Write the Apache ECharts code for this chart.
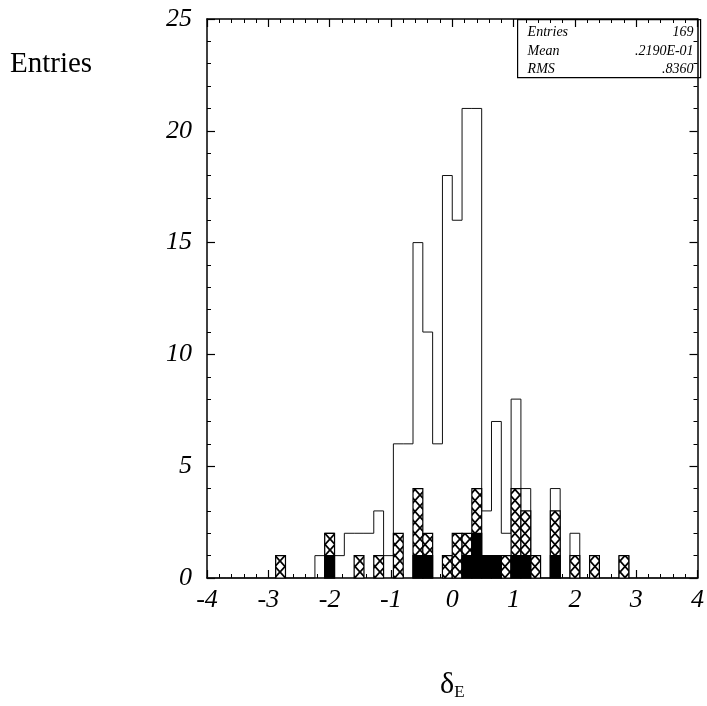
<!doctype html>
<html>
<head>
    <meta charset="utf-8">
    <title>delta E</title>
    <script src="https://cdn.jsdelivr.net/npm/echarts@6/dist/echarts.min.js"></script>
    <style>
        html, body {
            margin: 0;
            padding: 0;
            background: #fff;
        }
        #container {
            width: 707px;
            height: 706px;
        }
    </style>
</head>
<body>
    <div id="container"></div>
    <script type="text/javascript">
        // 50 bins from -4 to 4
        var xMin = -4;
        var xMax = 4;
        var binWidth = 0.16;

        // all entries (open histogram)
        var totalCounts = [
            0, 0, 0, 0, 0, 0, 0, 1, 0, 0,
            0, 1, 2, 1, 2, 2, 2, 3, 1, 6,
            6, 15, 11, 6, 18, 16, 21, 21, 3, 7,
            2, 8, 4, 1, 0, 4, 0, 2, 0, 1,
            0, 0, 1, 0, 0, 0, 0, 0, 0, 0
        ];
        // cross-hatched subset
        var hatchCounts = [
            0, 0, 0, 0, 0, 0, 0, 1, 0, 0,
            0, 0, 2, 0, 0, 1, 0, 1, 0, 2,
            0, 4, 2, 0, 1, 2, 2, 4, 1, 1,
            1, 4, 3, 1, 0, 3, 0, 1, 0, 1,
            0, 0, 1, 0, 0, 0, 0, 0, 0, 0
        ];
        // black subset
        var blackCounts = [
            0, 0, 0, 0, 0, 0, 0, 0, 0, 0,
            0, 0, 1, 0, 0, 0, 0, 0, 0, 0,
            0, 1, 1, 0, 0, 0, 1, 2, 1, 1,
            0, 1, 1, 0, 0, 1, 0, 0, 0, 0,
            0, 0, 0, 0, 0, 0, 0, 0, 0, 0
        ];

        var statNames = ['Entries', 'Mean', 'RMS'];
        var statValues = ['169', '.2190E-01', '.8360'];

        var serif = 'Liberation Serif';

        // data item: [low edge, count, high edge, previous bin count]
        function toBins(counts, keepZero) {
            var out = [];
            for (var i = 0; i < counts.length; i++) {
                if (!keepZero && counts[i] === 0) continue;
                var lo = xMin + i * binWidth;
                out.push([lo, counts[i], lo + binWidth, i > 0 ? counts[i - 1] : 0]);
            }
            return out;
        }

        // cross hatch pattern
        var pat = document.createElement('canvas');
        pat.width = 10;
        pat.height = 11;
        var ctx = pat.getContext('2d');
        ctx.fillStyle = '#fff';
        ctx.fillRect(0, 0, 10, 11);
        ctx.strokeStyle = '#000';
        ctx.lineWidth = 1.8;
        ctx.beginPath();
        ctx.moveTo(0, 0);
        ctx.lineTo(10, 11);
        ctx.moveTo(10, 0);
        ctx.lineTo(0, 11);
        ctx.stroke();

        function outlineItem(params, api) {
            var lo = api.value(0), c = api.value(1), hi = api.value(2), p = api.value(3);
            var pts = [api.coord([lo, p]), api.coord([lo, c]), api.coord([hi, c])];
            if (params.dataIndex === params.dataInsideLength - 1) {
                pts.push(api.coord([hi, 0]));
            }
            return {
                type: 'polyline',
                shape: { points: pts },
                style: { stroke: '#111', lineWidth: 1, fill: null }
            };
        }

        function rectMaker(fill) {
            return function (params, api) {
                var a = api.coord([api.value(0), api.value(1)]);
                var b = api.coord([api.value(2), 0]);
                return {
                    type: 'rect',
                    shape: { x: a[0], y: a[1], width: b[0] - a[0], height: b[1] - a[1] },
                    style: { fill: fill, stroke: '#000', lineWidth: 1.2 }
                };
            };
        }

        var tickStyle = { show: true, inside: true, length: 8, lineStyle: { color: '#000', width: 1.2 } };
        var minorStyle = { show: true, splitNumber: 5, length: 4, lineStyle: { color: '#000', width: 1 } };
        var lineStyle = { show: true, onZero: false, lineStyle: { color: '#000', width: 1.5 } };
        var labelStyle = {
            fontFamily: serif, fontStyle: 'italic', fontSize: 26, color: '#000'
        };

        var option = {
            backgroundColor: '#fff',
            animation: false,
            grid: { left: 207, right: 7, top: 19, bottom: 128 },
            xAxis: [{
                type: 'value', min: xMin, max: xMax, interval: 1, position: 'bottom',
                axisLine: lineStyle, axisTick: tickStyle, minorTick: minorStyle,
                splitLine: { show: false },
                axisLabel: Object.assign({ margin: 9 }, labelStyle),
                name: '{d|δ}{s|E}',
                nameLocation: 'middle',
                nameGap: 92,
                nameTextStyle: {
                    rich: {
                        d: { fontFamily: serif, fontSize: 30, color: '#000' },
                        s: { fontFamily: serif, fontSize: 17, color: '#000', padding: [14, 0, 0, 0] }
                    }
                }
            }, {
                type: 'value', min: xMin, max: xMax, interval: 1, position: 'top',
                axisLine: lineStyle, axisTick: tickStyle, minorTick: minorStyle,
                splitLine: { show: false }, axisLabel: { show: false }
            }],
            yAxis: [{
                type: 'value', min: 0, max: 25, interval: 5, position: 'left',
                axisLine: lineStyle, axisTick: tickStyle, minorTick: minorStyle,
                splitLine: { show: false },
                axisLabel: Object.assign({ margin: 15 }, labelStyle)
            }, {
                type: 'value', min: 0, max: 25, interval: 5, position: 'right',
                axisLine: lineStyle, axisTick: tickStyle, minorTick: minorStyle,
                splitLine: { show: false }, axisLabel: { show: false }
            }],
            graphic: [{
                type: 'text', left: 10, top: 50,
                style: { text: 'Entries', font: '29px "Liberation Serif"', fill: '#000' }
            }, {
                type: 'group', left: 517, top: 19,
                children: [{
                    type: 'rect',
                    shape: { x: 0, y: 0, width: 183, height: 58 },
                    style: { fill: '#fff', stroke: '#000', lineWidth: 1.2 }
                }].concat(statNames.map(function (n, k) {
                    return {
                        type: 'text', x: 10, y: 13 + k * 18.5,
                        style: { text: n, font: 'italic 14px "Liberation Serif"', fill: '#000', verticalAlign: 'middle' }
                    };
                })).concat(statValues.map(function (v, k) {
                    return {
                        type: 'text', x: 176, y: 13 + k * 18.5,
                        style: { text: v, font: 'italic 14px "Liberation Serif"', fill: '#000', align: 'right', verticalAlign: 'middle' }
                    };
                }))
            }],
            series: [{
                type: 'custom', name: 'all', z: 1,
                renderItem: outlineItem,
                data: toBins(totalCounts, true)
            }, {
                type: 'custom', name: 'hatched', z: 2,
                renderItem: rectMaker({ image: pat, repeat: 'repeat' }),
                data: toBins(hatchCounts, false)
            }, {
                type: 'custom', name: 'black', z: 3,
                renderItem: rectMaker('#000'),
                data: toBins(blackCounts, false)
            }]
        };

        var myChart = echarts.init(document.getElementById('container'));
        myChart.setOption(option);
    </script>
</body>
</html>
